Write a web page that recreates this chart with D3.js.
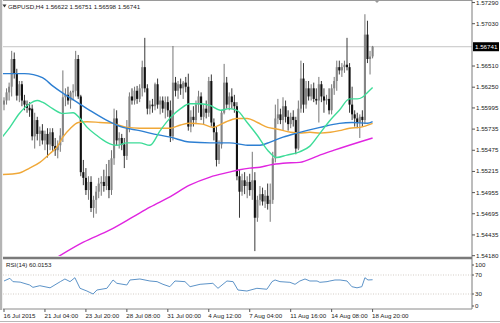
<!DOCTYPE html>
<html>
<head>
<meta charset="utf-8">
<script src="https://cdn.jsdelivr.net/npm/d3@7/dist/d3.min.js"></script>
<style>
  body { margin: 0; background: #fff; }
  svg text { font-family: "Liberation Sans", Arial, sans-serif; font-size: 6.2px; fill: #1a1a1a; }
</style>
</head>
<body>
<div id="chart"></div>
<script>
// GBPUSD H4 bars, [open, high, low, close]
var candles = [
  [1.5603,1.5612,1.5596,1.5608],[1.5608,1.5623,1.5603,1.5618],[1.5618,1.5630,1.5608,1.5625],
  [1.5625,1.5669,1.5613,1.5659],[1.5659,1.5667,1.5635,1.5641],[1.5641,1.5647,1.5608,1.5614],
  [1.5614,1.5632,1.5606,1.5628],[1.5628,1.5632,1.5601,1.5608],[1.5608,1.5615,1.5596,1.5603],
  [1.5603,1.5608,1.5593,1.5599],[1.5599,1.5606,1.5588,1.5596],[1.5598,1.5603,1.5559,1.5564],
  [1.5564,1.5593,1.5549,1.5584],[1.5584,1.5588,1.5559,1.5567],[1.5567,1.5576,1.5552,1.5571],
  [1.5571,1.5579,1.5554,1.5559],[1.5559,1.5571,1.5547,1.5567],[1.5567,1.5574,1.5538,1.5554],
  [1.5554,1.5574,1.5547,1.5569],[1.5569,1.5574,1.5545,1.5552],[1.5552,1.5562,1.5540,1.5547],
  [1.5547,1.5559,1.5537,1.5553],[1.5553,1.5574,1.5545,1.5565],[1.5565,1.5645,1.5557,1.5612],
  [1.5612,1.5623,1.5601,1.5615],[1.5615,1.5625,1.5603,1.5608],[1.5608,1.5620,1.5598,1.5618],
  [1.5618,1.5628,1.5608,1.5620],[1.5620,1.5669,1.5613,1.5659],[1.5659,1.5664,1.5610,1.5613],
  [1.5613,1.5615,1.5515,1.5520],[1.5520,1.5535,1.5504,1.5513],[1.5513,1.5525,1.5492,1.5498],
  [1.5498,1.5515,1.5486,1.5508],[1.5508,1.5515,1.5471,1.5476],[1.5476,1.5491,1.5464,1.5486],
  [1.5486,1.5503,1.5469,1.5496],[1.5496,1.5513,1.5488,1.5506],[1.5506,1.5515,1.5491,1.5508],
  [1.5508,1.5523,1.5496,1.5503],[1.5503,1.5530,1.5498,1.5515],[1.5515,1.5535,1.5488,1.5498],
  [1.5498,1.5547,1.5492,1.5537],[1.5537,1.5598,1.5529,1.5586],[1.5586,1.5596,1.5553,1.5559],
  [1.5559,1.5569,1.5549,1.5562],[1.5562,1.5567,1.5547,1.5554],[1.5554,1.5562,1.5525,1.5540],
  [1.5540,1.5584,1.5535,1.5574],[1.5574,1.5618,1.5569,1.5613],[1.5613,1.5623,1.5603,1.5608],
  [1.5608,1.5625,1.5603,1.5620],[1.5620,1.5626,1.5604,1.5610],[1.5610,1.5628,1.5606,1.5623],
  [1.5623,1.5657,1.5613,1.5649],[1.5649,1.5685,1.5618,1.5623],[1.5623,1.5628,1.5591,1.5598],
  [1.5598,1.5608,1.5591,1.5603],[1.5603,1.5610,1.5593,1.5601],[1.5601,1.5630,1.5596,1.5628],
  [1.5628,1.5635,1.5598,1.5603],[1.5603,1.5613,1.5591,1.5608],[1.5608,1.5613,1.5593,1.5598],
  [1.5598,1.5613,1.5586,1.5606],[1.5606,1.5613,1.5588,1.5596],[1.5596,1.5608,1.5557,1.5564],
  [1.5564,1.5675,1.5559,1.5630],[1.5630,1.5637,1.5613,1.5620],[1.5620,1.5632,1.5610,1.5628],
  [1.5628,1.5635,1.5615,1.5623],[1.5623,1.5632,1.5610,1.5630],[1.5630,1.5637,1.5618,1.5625],
  [1.5625,1.5641,1.5571,1.5576],[1.5576,1.5596,1.5569,1.5588],[1.5588,1.5601,1.5576,1.5584],
  [1.5584,1.5608,1.5579,1.5603],[1.5603,1.5620,1.5593,1.5613],[1.5613,1.5618,1.5584,1.5588],
  [1.5588,1.5603,1.5579,1.5598],[1.5598,1.5608,1.5586,1.5593],[1.5593,1.5637,1.5588,1.5632],
  [1.5632,1.5640,1.5576,1.5581],[1.5581,1.5586,1.5559,1.5569],[1.5569,1.5576,1.5527,1.5535],
  [1.5535,1.5559,1.5530,1.5554],[1.5554,1.5596,1.5549,1.5593],[1.5593,1.5653,1.5591,1.5630],
  [1.5630,1.5637,1.5598,1.5603],[1.5603,1.5618,1.5596,1.5613],[1.5613,1.5623,1.5598,1.5606],
  [1.5606,1.5615,1.5593,1.5601],[1.5601,1.5606,1.5510,1.5515],[1.5515,1.5523,1.5464,1.5496],
  [1.5496,1.5518,1.5491,1.5510],[1.5510,1.5520,1.5493,1.5503],[1.5503,1.5515,1.5488,1.5508],
  [1.5508,1.5518,1.5491,1.5498],[1.5498,1.5545,1.5486,1.5510],[1.5510,1.5520,1.5423,1.5464],
  [1.5464,1.5491,1.5459,1.5486],[1.5486,1.5503,1.5479,1.5493],[1.5493,1.5501,1.5479,1.5484],
  [1.5484,1.5498,1.5476,1.5491],[1.5491,1.5506,1.5474,1.5481],[1.5481,1.5506,1.5459,1.5486],
  [1.5486,1.5545,1.5481,1.5537],[1.5537,1.5603,1.5532,1.5586],[1.5586,1.5610,1.5579,1.5591],
  [1.5591,1.5598,1.5579,1.5584],[1.5584,1.5612,1.5571,1.5601],[1.5601,1.5608,1.5581,1.5588],
  [1.5588,1.5596,1.5571,1.5579],[1.5579,1.5593,1.5574,1.5588],[1.5588,1.5596,1.5576,1.5584],
  [1.5584,1.5588,1.5542,1.5549],[1.5549,1.5608,1.5547,1.5598],[1.5598,1.5657,1.5593,1.5635],
  [1.5635,1.5654,1.5593,1.5603],[1.5603,1.5632,1.5598,1.5623],[1.5623,1.5632,1.5608,1.5613],
  [1.5613,1.5628,1.5608,1.5623],[1.5623,1.5630,1.5606,1.5610],[1.5610,1.5623,1.5603,1.5608],
  [1.5608,1.5637,1.5581,1.5628],[1.5628,1.5632,1.5606,1.5613],[1.5613,1.5623,1.5593,1.5608],
  [1.5608,1.5615,1.5603,1.5610],[1.5610,1.5623,1.5591,1.5596],[1.5596,1.5628,1.5591,1.5623],
  [1.5623,1.5637,1.5615,1.5632],[1.5632,1.5657,1.5620,1.5649],[1.5649,1.5657,1.5640,1.5645],
  [1.5645,1.5654,1.5637,1.5649],[1.5649,1.5657,1.5642,1.5652],[1.5652,1.5685,1.5645,1.5649],
  [1.5649,1.5654,1.5593,1.5603],[1.5603,1.5625,1.5584,1.5591],[1.5591,1.5596,1.5576,1.5586],
  [1.5586,1.5593,1.5574,1.5581],[1.5581,1.5591,1.5562,1.5588],[1.5588,1.5596,1.5576,1.5584],
  [1.5584,1.5714,1.5579,1.5689],[1.5689,1.5706,1.5654,1.5659],[1.5659,1.5669,1.5640,1.5662],
  [1.56622,1.56751,1.56598,1.56741]
];

// moving averages, [bar index, price]
var maBlue = [[-1,1.5641],[8,1.5641],[15,1.5636],[19,1.5626],[23,1.5617],[28.5,1.5606],[33.5,1.5596],
  [40,1.5584],[46.5,1.5575],[53,1.5571],[57,1.5568],[65,1.5563],[72.5,1.5557],[80.5,1.5556],[88,1.5556],
  [96,1.5553],[100,1.5553],[104,1.5557],[109,1.5563],[114.5,1.5568],[123.5,1.5575],[131,1.5580],
  [136,1.5581],[142,1.5580],[144,1.5582]];
var maOrange = [[-1,1.5517],[6,1.5519],[10,1.5525],[14,1.5532],[18,1.5543],[20.7,1.5551],[23,1.5563],
  [26,1.5574],[29,1.5581],[32.5,1.5582],[37.5,1.5581],[42.5,1.5580],[48,1.5575],[53,1.5574],[65,1.5574],
  [69,1.5578],[72.5,1.5580],[77.5,1.5579],[81.5,1.5575],[85.5,1.5580],[91,1.5586],[95,1.5586],[99,1.5581],
  [103,1.5575],[106.5,1.5573],[112,1.5569],[115.5,1.5568],[119.5,1.5569],[123.5,1.5568],[127.5,1.5569],
  [131,1.5571],[135,1.5574],[139,1.5575],[144,1.5580]];
var maGreen = [[-1,1.5562],[2.3,1.5575],[6,1.5592],[10,1.5604],[13,1.5608],[15,1.5606],[19,1.5598],
  [23,1.5592],[27,1.5593],[29.7,1.5586],[32.5,1.5575],[36.3,1.5565],[40,1.5557],[44,1.5553],[48,1.5556],
  [53,1.5556],[57,1.5553],[61,1.5571],[65,1.5587],[69,1.5598],[72.5,1.5604],[76.5,1.5604],[80.5,1.5602],
  [84.5,1.5596],[88,1.5598],[91,1.5596],[95,1.5581],[99,1.5565],[103,1.5547],[106.5,1.5538],[110.5,1.5541],
  [115.5,1.5545],[119.5,1.5552],[123.5,1.5568],[127.5,1.5584],[131,1.5596],[135,1.5610],[138,1.5610],
  [140,1.5612],[142,1.5618],[144,1.5624]];
var maMagenta = [[18,1.5410],[31,1.5434],[41.4,1.5449],[50.4,1.5465],[57,1.5477],[65,1.5490],[72.5,1.5504],
  [80.5,1.5514],[88,1.5520],[92,1.5523],[96,1.5525],[100,1.5526],[104,1.5529],[109,1.5531],[115.5,1.5532],
  [122.7,1.5540],[129,1.5547],[144,1.5562]];

// RSI(14), [bar index, value]
var rsiValues = [[0,57.4],[2.3,63],[3.5,56],[6.3,55],[10,49],[11.3,44],[14,47.5],[18,43],[22,56],[23.8,61.6],
  [25.8,56],[27.7,64.3],[29.7,42],[32.4,36.3],[34.8,30],[36.3,38.4],[40.2,42],[42.6,59.5],[44.1,52.5],
  [48,49],[49.2,59.5],[53.1,61.6],[57,57.4],[59.8,56],[62.1,50.4],[64.8,45.4],[66.8,57.4],[70.7,56],
  [72.7,45.4],[76.6,50.4],[81.6,52.5],[83.6,42],[87.1,57.4],[89.5,56],[91.4,38.4],[94.9,36.3],[98.8,42],
  [102.7,40],[104.7,56],[105.9,59.5],[107.8,56],[111.7,54.6],[113.7,50.4],[115.6,57.4],[117.6,61.6],
  [119.5,57.4],[122.3,57.4],[123.4,54.6],[126.2,56],[127.3,57.4],[129.3,59.5],[131.3,59.5],[134,57.4],
  [135.9,45.4],[137.9,43],[139.8,45.4],[141,64.3],[142.2,59.5],[144,60.0153]];

var priceTicks = [1.57290,1.57030,1.56510,1.56250,1.55995,1.55735,1.55475,1.55215,1.54955,1.54695,1.54435,1.54180];
var rsiTicks = [100,70,30,0];
var rsiLevels = [70,30];
var timeIdx = [0,16,32,48,64,80,96,112,128,144];
var timeText = ["16 Jul 2015","21 Jul 04:00","23 Jul 20:00","28 Jul 08:00","31 Jul 00:00",
  "4 Aug 12:00","7 Aug 04:00","11 Aug 16:00","14 Aug 08:00","18 Aug 20:00"];
var lastPrice = 1.56741;
var headerText = "GBPUSD,H4  1.56622 1.56751 1.56598 1.56741";
var rsiText = "RSI(14) 60.0153";

// dimensions
var svgWidth = 500, svgHeight = 323;
var plotLeft = 3, plotRight = 472;
var mainBottom = 257;
var rsiBottom = 309;

var svg = d3.select("#chart").append("svg")
  .attr("width", svgWidth)
  .attr("height", svgHeight);

// scales
var xScale = d3.scaleLinear().domain([0, 144]).range([4, 372.6]);
var yScale = d3.scaleLinear().domain([1.54170, 1.57315]).range([256, 0]);
var rsiScale = d3.scaleLinear().domain([0, 100]).range([308.25, 260.75]);

var defs = svg.append("defs");
defs.append("clipPath").attr("id", "mainClip").append("rect")
  .attr("x", plotLeft).attr("y", 1).attr("width", plotRight - plotLeft).attr("height", mainBottom - 2);
defs.append("clipPath").attr("id", "rsiClip").append("rect")
  .attr("x", plotLeft).attr("y", 260).attr("width", plotRight - plotLeft).attr("height", rsiBottom - 260);

var mainG = svg.append("g").attr("clip-path", "url(#mainClip)");

// bid line
mainG.append("line")
  .attr("x1", plotLeft).attr("x2", plotRight)
  .attr("y1", yScale(lastPrice)).attr("y2", yScale(lastPrice))
  .attr("stroke", "#c4c4c4").attr("stroke-width", 1);

// candles
var bars = mainG.append("g").selectAll("g")
  .data(candles)
  .enter()
  .append("g");

bars.append("line")
  .attr("x1", (d, i) => xScale(i)).attr("x2", (d, i) => xScale(i))
  .attr("y1", d => yScale(d[1])).attr("y2", d => yScale(d[2]))
  .attr("stroke", d => d[3] >= d[0] ? "#666" : "#222")
  .attr("stroke-width", 0.9);

bars.append("rect")
  .attr("x", (d, i) => xScale(i) - 1.05)
  .attr("width", 2.1)
  .attr("y", d => yScale(Math.max(d[0], d[3])))
  .attr("height", d => Math.max(0.8, Math.abs(yScale(d[0]) - yScale(d[3]))))
  .attr("fill", d => d[3] >= d[0] ? "#858585" : "#111");

// moving averages
var maLine = d3.line()
  .x(d => xScale(d[0]))
  .y(d => yScale(d[1]))
  .curve(d3.curveMonotoneX);

var maSeries = [
  {pts: maMagenta, color: "#e025e0"},
  {pts: maOrange, color: "#f0a838"},
  {pts: maBlue, color: "#2d7fd2"},
  {pts: maGreen, color: "#3ddc98"}
];
maSeries.forEach(function(s) {
  mainG.append("path")
    .attr("d", maLine(s.pts))
    .attr("fill", "none")
    .attr("stroke", s.color)
    .attr("stroke-width", 1.4);
});

// RSI panel
var rsiG = svg.append("g").attr("clip-path", "url(#rsiClip)");
rsiG.selectAll("line.level")
  .data(rsiLevels)
  .enter()
  .append("line")
  .attr("class", "level")
  .attr("x1", plotLeft).attr("x2", plotRight)
  .attr("y1", d => rsiScale(d)).attr("y2", d => rsiScale(d))
  .attr("stroke", "#c8c0b8").attr("stroke-width", 0.8)
  .attr("stroke-dasharray", "1,1.5");

rsiG.append("path")
  .attr("d", d3.line().x(d => xScale(d[0])).y(d => rsiScale(d[1]))(rsiValues))
  .attr("fill", "none")
  .attr("stroke", "#5c93c8")
  .attr("stroke-width", 1);

// frame
svg.append("rect").attr("x", 0).attr("y", 0).attr("width", 2.2).attr("height", rsiBottom + 1).attr("fill", "#b4b4b4");
svg.append("line").attr("x1", plotLeft).attr("x2", plotRight).attr("y1", 0.5).attr("y2", 0.5)
  .attr("stroke", "#9a9a9a").attr("stroke-width", 1);
svg.append("line").attr("x1", plotRight).attr("x2", plotRight).attr("y1", 0).attr("y2", rsiBottom)
  .attr("stroke", "#7a7a7a").attr("stroke-width", 1);
svg.append("line").attr("x1", plotLeft).attr("x2", plotRight).attr("y1", 258).attr("y2", 258)
  .attr("stroke", "#7a7a7a").attr("stroke-width", 2.5);
svg.append("line").attr("x1", plotLeft).attr("x2", plotRight).attr("y1", rsiBottom).attr("y2", rsiBottom)
  .attr("stroke", "#8a8a8a").attr("stroke-width", 1);
svg.append("line").attr("x1", 0).attr("x2", svgWidth).attr("y1", 321.5).attr("y2", 321.5)
  .attr("stroke", "#b8b8b8").attr("stroke-width", 1);

// chart shift marker
svg.append("path").attr("d", "M374,0 L380,0 L377,3 Z").attr("fill", "#9a9a9a");

// right price axis
var rightAxis = d3.axisRight(yScale)
  .tickValues(priceTicks)
  .tickSize(3)
  .tickPadding(1)
  .tickFormat(d3.format(".5f"));

var yAxisG = svg.append("g")
  .attr("transform", `translate(${plotRight},0)`)
  .call(rightAxis);
yAxisG.select(".domain").remove();
yAxisG.attr("font-size", null).attr("font-family", null);
yAxisG.selectAll("line").attr("stroke", "#555");

// current price tag
svg.append("rect")
  .attr("x", plotRight + 1).attr("y", yScale(lastPrice) - 4.5)
  .attr("width", 26).attr("height", 9)
  .attr("fill", "#000");
svg.append("text")
  .attr("x", plotRight + 3).attr("y", yScale(lastPrice))
  .attr("dy", "0.35em")
  .style("fill", "#fff")
  .text(d3.format(".5f")(lastPrice));

// RSI axis labels
svg.append("g").selectAll("text")
  .data(rsiTicks)
  .enter()
  .append("text")
  .attr("x", plotRight + 3)
  .attr("y", d => Math.min(Math.max(rsiScale(d), 265), 306))
  .attr("dy", "0.35em")
  .text(d => d);

svg.append("g").selectAll("line")
  .data(rsiTicks)
  .enter()
  .append("line")
  .attr("x1", plotRight).attr("x2", plotRight + 2)
  .attr("y1", d => Math.min(Math.max(rsiScale(d), 265), 306))
  .attr("y2", d => Math.min(Math.max(rsiScale(d), 265), 306))
  .attr("stroke", "#555");

// time axis
var timeG = svg.append("g");
timeG.selectAll("line")
  .data(timeIdx)
  .enter()
  .append("line")
  .attr("x1", d => xScale(d)).attr("x2", d => xScale(d))
  .attr("y1", rsiBottom).attr("y2", rsiBottom + 3)
  .attr("stroke", "#555");
timeG.selectAll("text")
  .data(timeIdx)
  .enter()
  .append("text")
  .attr("x", d => xScale(d) - 0.5)
  .attr("y", 316)
  .attr("dy", "0.35em")
  .text((d, i) => timeText[i]);

// header and indicator labels
svg.append("path").attr("d", "M2.5,4.5 L6.5,4.5 L4.5,7.5 Z").attr("fill", "#333");
svg.append("text").attr("x", 8).attr("y", 6.5).attr("dy", "0.35em").text(headerText);
svg.append("text").attr("x", 6).attr("y", 265).attr("dy", "0.35em").text(rsiText);
</script>
</body>
</html>
